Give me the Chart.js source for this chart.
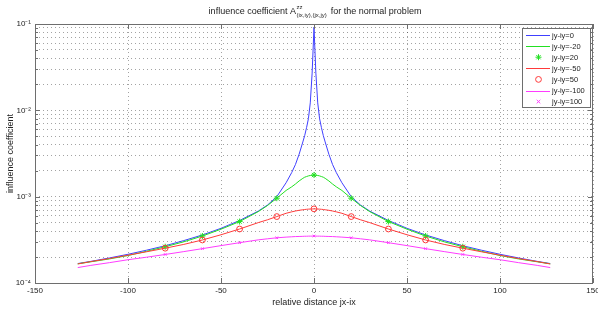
<!DOCTYPE html>
<html><head><meta charset="utf-8">
<script src="https://cdn.jsdelivr.net/npm/chart.js@4.4.1/dist/chart.umd.min.js"></script>
<style>html,body{margin:0;padding:0;background:#fff;}</style>
</head><body>
<canvas id="c" width="598" height="313" style="display:block;width:598px;height:313px"></canvas>
<script>
// ---- data ----
const seriesLabels = ['jy-iy=0','jy-iy=-20','jy-iy=20','jy-iy=-50','jy-iy=50','jy-iy=-100','jy-iy=100'];
const xLine = [-127,-120,-110,-100,-90,-80,-70,-60,-50,-40,-30,-25,-20,-15,-12,-10,-8,-6,-5,-4,-3,-2,-1,0,1,2,3,4,5,6,8,10,12,15,20,25,30,40,50,60,70,80,90,100,110,120,127];
const yBlue = [0.000168,0.000178,0.000195,0.000215,0.00024,0.00027,0.00031,0.00036,0.00043,0.00053,0.00068,0.00080,0.00100,0.00145,0.0019,0.00235,0.0031,0.0043,0.0051,0.0063,0.0080,0.0122,0.027,0.092,0.027,0.0122,0.0080,0.0063,0.0051,0.0043,0.0031,0.00235,0.0019,0.00145,0.00100,0.00080,0.00068,0.00053,0.00043,0.00036,0.00031,0.00027,0.00024,0.000215,0.000195,0.000178,0.000168];
const yGreen = [0.000167,0.000176,0.00019,0.000208,0.000233,0.000263,0.0003,0.00035,0.00042,0.000515,0.00067,0.00079,0.00096,0.00118,0.0013,0.0014,0.00152,0.00163,0.00168,0.00171,0.00174,0.00176,0.00177,0.00178,0.00177,0.00176,0.00174,0.00171,0.00168,0.00163,0.00152,0.0014,0.0013,0.00118,0.00096,0.00079,0.00067,0.000515,0.00042,0.00035,0.0003,0.000263,0.000233,0.000208,0.00019,0.000176,0.000167];
const yRed = [0.000166,0.000177,0.000192,0.00021,0.00023,0.000253,0.00028,0.000315,0.000362,0.000422,0.0005,0.00054,0.000588,0.000642,0.000667,0.000682,0.000695,0.000705,0.00071,0.000714,0.000717,0.000719,0.00072,0.000722,0.00072,0.000719,0.000717,0.000714,0.00071,0.000705,0.000695,0.000682,0.000667,0.000642,0.000588,0.00054,0.0005,0.000422,0.000362,0.000315,0.00028,0.000253,0.00023,0.00021,0.000192,0.000177,0.000166];
const yMagenta = [0.000151,0.00016,0.000172,0.000186,0.000199,0.000214,0.000231,0.00025,0.000271,0.000293,0.000316,0.000325,0.000334,0.00034,0.000343,0.000345,0.000346,0.000347,0.000348,0.000348,0.000349,0.000349,0.000349,0.00035,0.000349,0.000349,0.000349,0.000348,0.000348,0.000347,0.000346,0.000345,0.000343,0.00034,0.000334,0.000325,0.000316,0.000293,0.000271,0.00025,0.000231,0.000214,0.000199,0.000186,0.000172,0.00016,0.000151];
const xMarks = [-80,-60,-40,-20,0,20,40,60,80];
const yGreenMarks = [0.000263,0.00035,0.000515,0.00096,0.00178,0.00096,0.000515,0.00035,0.000263];
const yRedMarks = [0.000253,0.000315,0.000422,0.000588,0.000722,0.000588,0.000422,0.000315,0.000253];
const yMagentaMarks = [0.000214,0.00025,0.000293,0.000334,0.00035,0.000334,0.000293,0.00025,0.000214];
const xTicks = [-150,-100,-50,0,50,100,150];
const yMajor = [1e-4,1e-3,1e-2,1e-1];
const yTickLabels = ['10⁻⁴','10⁻³','10⁻²','10⁻¹'];
const yGrid = [1e-4,2e-4,3e-4,4e-4,5e-4,6e-4,7e-4,8e-4,9e-4,1e-3,2e-3,3e-3,4e-3,5e-3,6e-3,7e-3,8e-3,9e-3,1e-2,2e-2,3e-2,4e-2,5e-2,6e-2,7e-2,8e-2,9e-2,1e-1];

const FONT = '"Liberation Sans", Arial, Helvetica, sans-serif';
const C_BLUE = '#4040ff', C_GREEN = '#22e022', C_RED = '#ff3a3a', C_MAG = '#ff3cff';
const GRID = 'rgba(0,0,0,0.36)';
const toXY = (xs, ys) => xs.map((x, i) => ({x: x, y: ys[i]}));
const isMajor = v => yMajor.some(m => Math.abs(Math.log10(v) - Math.log10(m)) < 1e-6);

const lineDs = (i, ys, col) => ({label: seriesLabels[i], data: toXY(xLine, ys), borderColor: col, backgroundColor: col,
  borderWidth: 1, pointRadius: 0, tension: 0, order: 10 - i, kind: 'line'});
const markDs = (i, ys, col, style, r) => ({label: seriesLabels[i], data: toXY(xMarks, ys), borderColor: col,
  backgroundColor: 'rgba(0,0,0,0)', showLine: false, pointStyle: style, pointRadius: r, pointBorderWidth: 1,
  order: 10 - i, kind: 'mark'});

const datasets = [
  lineDs(0, yBlue, C_BLUE),
  lineDs(1, yGreen, C_GREEN),
  markDs(2, yGreenMarks, C_GREEN, 'star', 3),
  lineDs(3, yRed, C_RED),
  markDs(4, yRedMarks, C_RED, 'circle', 2.9),
  lineDs(5, yMagenta, C_MAG),
  markDs(6, yMagentaMarks, C_MAG, 'crossRot', 1.8)
];

function drawMarker(ctx, style, x, y, r) {
  ctx.beginPath();
  if (style === 'circle') { ctx.arc(x, y, r, 0, Math.PI * 2); }
  else if (style === 'crossRot') { ctx.moveTo(x - r, y - r); ctx.lineTo(x + r, y + r); ctx.moveTo(x - r, y + r); ctx.lineTo(x + r, y - r); }
  else if (style === 'star') { ctx.moveTo(x - r, y); ctx.lineTo(x + r, y); ctx.moveTo(x, y - r); ctx.lineTo(x, y + r);
    const d = r * 0.707; ctx.moveTo(x - d, y - d); ctx.lineTo(x + d, y + d); ctx.moveTo(x - d, y + d); ctx.lineTo(x + d, y - d); }
  ctx.stroke();
}

const decorPlugin = {
  id: 'decor',
  afterDraw(chart) {
    const ctx = chart.ctx, a = chart.chartArea;
    const xs = chart.scales.x, ys = chart.scales.y;
    ctx.save();
    // box
    ctx.strokeStyle = '#6e6e6e'; ctx.lineWidth = 1;
    ctx.strokeRect(Math.round(a.left) + 0.5, Math.round(a.top) + 0.5, Math.round(a.right - a.left) - 1, Math.round(a.bottom - a.top));
    // inward ticks
    ctx.beginPath();
    ys.ticks.forEach(t => {
      const y = Math.round(ys.getPixelForValue(t.value)) + 0.5;
      const len = isMajor(t.value) ? 5 : 3;
      ctx.moveTo(a.left, y); ctx.lineTo(a.left + len, y);
      ctx.moveTo(a.right, y); ctx.lineTo(a.right - len, y);
    });
    xs.ticks.forEach(t => {
      const x = Math.round(xs.getPixelForValue(t.value)) + 0.5;
      ctx.moveTo(x, a.bottom); ctx.lineTo(x, a.bottom - 5);
      ctx.moveTo(x, a.top); ctx.lineTo(x, a.top + 5);
    });
    ctx.stroke();

    // title with super/subscript
    const t1 = 'influence coefficient A', sup = 'zz', sub = '(ix,iy),(jx,jy)', t2 = ' for the normal problem';
    ctx.fillStyle = '#222'; ctx.textBaseline = 'alphabetic'; ctx.textAlign = 'left';
    ctx.font = '9px ' + FONT; const w1 = ctx.measureText(t1).width, w2 = ctx.measureText(t2).width;
    ctx.font = '6px ' + FONT; const ws = Math.max(ctx.measureText(sup).width, ctx.measureText(sub).width);
    const cx = (a.left + a.right) / 2 + 1;
    let x0 = cx - (w1 + ws + 2 + w2) / 2;
    ctx.font = '9px ' + FONT; ctx.fillText(t1, x0, 14);
    ctx.font = '6px ' + FONT; ctx.fillText(sup, x0 + w1 + 0.5, 8.5); ctx.fillText(sub, x0 + w1 + 0.5, 17);
    ctx.font = '9px ' + FONT; ctx.fillText(t2, x0 + w1 + ws + 2, 14);

    // legend
    const lx = Math.round(a.right) - 71, ly = Math.round(a.top) + 4, lw = 68, lh = 79;
    ctx.fillStyle = '#fff'; ctx.fillRect(lx, ly, lw, lh);
    ctx.strokeStyle = '#6e6e6e'; ctx.strokeRect(lx + 0.5, ly + 0.5, lw, lh);
    ctx.font = '7.5px ' + FONT; ctx.textBaseline = 'middle';
    chart.data.datasets.forEach((ds, i) => {
      const y = ly + 7 + i * 11.1;
      ctx.strokeStyle = ds.borderColor; ctx.lineWidth = 1;
      if (ds.kind === 'line') {
        ctx.beginPath(); ctx.moveTo(lx + 4, Math.round(y) + 0.5); ctx.lineTo(lx + 28, Math.round(y) + 0.5); ctx.stroke();
      } else {
        drawMarker(ctx, ds.pointStyle, lx + 16.5, y, ds.pointRadius);
      }
      ctx.fillStyle = '#222';
      ctx.fillText(ds.label, lx + 30, y + 0.5);
    });
    ctx.restore();
  }
};

new Chart(document.getElementById('c'), {
  type: 'line',
  data: {datasets: datasets},
  plugins: [decorPlugin],
  options: {
    responsive: false, animation: false, devicePixelRatio: 1,
    layout: {padding: {left: 0, right: 1, top: 24, bottom: 0}},
    plugins: {legend: {display: false}, title: {display: false}, tooltip: {enabled: false}},
    scales: {
      x: {
        type: 'linear', min: -150, max: 150,
        afterBuildTicks: s => { s.ticks = xTicks.map(v => ({value: v})); },
        afterFit: s => { s.height = 30; s.paddingLeft = 0; s.paddingRight = 0; },
        ticks: {autoSkip: false, maxRotation: 0, padding: 3, color: '#222', font: {family: FONT, size: 8}, callback: v => String(v)},
        grid: {color: GRID, lineWidth: 1, drawTicks: false},
        border: {display: false, dash: [1, 3]},
        title: {display: true, text: 'relative distance jx-ix', color: '#222', font: {family: FONT, size: 9}, padding: {top: 0, bottom: 5}}
      },
      y: {
        type: 'logarithmic', min: 1e-4, max: 1e-1,
        afterBuildTicks: s => { s.ticks = yGrid.map(v => ({value: v, major: isMajor(v)})); },
        afterFit: s => { s.width = 35; },
        ticks: {autoSkip: false, padding: 4, color: '#222', font: {family: FONT, size: 8},
          callback: v => { const i = yMajor.findIndex(m => Math.abs(Math.log10(v) - Math.log10(m)) < 1e-6); return i >= 0 ? yTickLabels[i] : ''; }},
        grid: {color: GRID, lineWidth: 1, drawTicks: false},
        border: {display: false, dash: [1, 3]},
        title: {display: true, text: 'influence coefficient', color: '#222', font: {family: FONT, size: 9}, padding: {top: 5, bottom: 0}}
      }
    }
  }
});
</script>
</body></html>
